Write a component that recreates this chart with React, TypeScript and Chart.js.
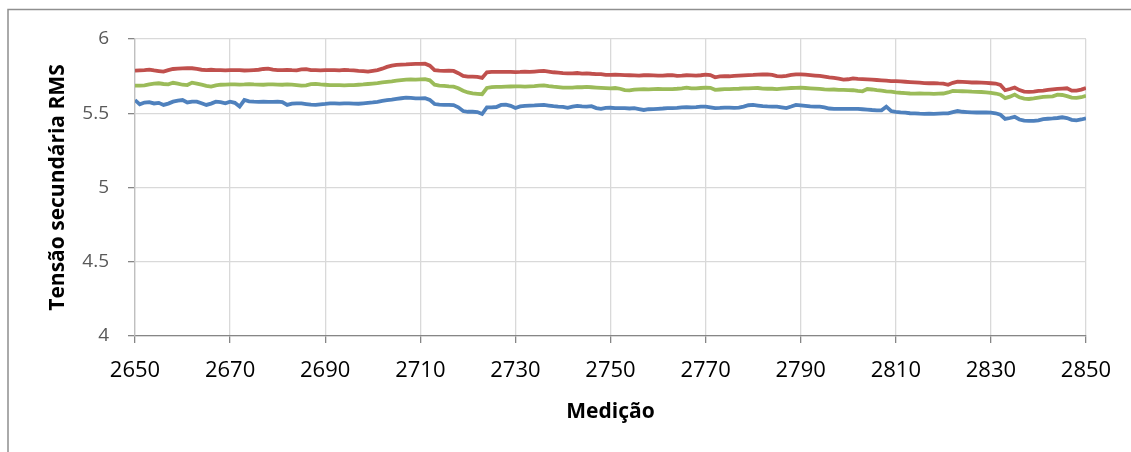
import React, { useEffect, useRef } from "react";
import { Chart, registerables } from "chart.js";

Chart.register(...registerables);

const xStart = 2650;
const xTicks = [2650, 2670, 2690, 2710, 2730, 2750, 2770, 2790, 2810, 2830, 2850];
const yTicks = [4, 4.5, 5, 5.5, 6];

const redSeries = [
  5.787, 5.789, 5.791, 5.794, 5.788, 5.784, 5.780, 5.790, 5.798, 5.800,
  5.802, 5.803, 5.803, 5.798, 5.793, 5.791, 5.793, 5.790, 5.791, 5.789,
  5.790, 5.791, 5.790, 5.788, 5.789, 5.791, 5.793, 5.798, 5.801, 5.794,
  5.791, 5.790, 5.792, 5.790, 5.789, 5.795, 5.797, 5.790, 5.790, 5.789,
  5.791, 5.790, 5.791, 5.789, 5.792, 5.790, 5.789, 5.786, 5.784, 5.780,
  5.786, 5.791, 5.800, 5.812, 5.821, 5.826, 5.828, 5.829, 5.831, 5.832,
  5.832, 5.834, 5.820, 5.790, 5.787, 5.785, 5.787, 5.785, 5.770, 5.751,
  5.746, 5.747, 5.745, 5.738, 5.776, 5.778, 5.779, 5.778, 5.779, 5.778,
  5.777, 5.778, 5.780, 5.779, 5.781, 5.783, 5.785, 5.781, 5.776, 5.773,
  5.770, 5.768, 5.769, 5.771, 5.767, 5.769, 5.766, 5.764, 5.763, 5.758,
  5.758, 5.760, 5.759, 5.757, 5.756, 5.755, 5.754, 5.756, 5.757, 5.755,
  5.753, 5.753, 5.756, 5.757, 5.752, 5.753, 5.756, 5.755, 5.754, 5.756,
  5.760, 5.757, 5.742, 5.748, 5.750, 5.749, 5.751, 5.753, 5.755, 5.757,
  5.758, 5.760, 5.761, 5.762, 5.758, 5.750, 5.748, 5.752, 5.758, 5.762,
  5.762, 5.760, 5.757, 5.754, 5.751, 5.747, 5.742, 5.738, 5.733, 5.726,
  5.729, 5.735, 5.732, 5.730, 5.728, 5.726, 5.724, 5.722, 5.720, 5.717,
  5.716, 5.714, 5.712, 5.710, 5.708, 5.706, 5.703, 5.702, 5.703, 5.701,
  5.700, 5.692, 5.705, 5.713, 5.711, 5.709, 5.707, 5.707, 5.706, 5.704,
  5.702, 5.700, 5.690, 5.655, 5.663, 5.673, 5.656, 5.646, 5.644, 5.646,
  5.650, 5.653, 5.657, 5.661, 5.664, 5.666, 5.668, 5.652, 5.652, 5.659,
  5.670,
];

const greenSeries = [
  5.686, 5.686, 5.688, 5.694, 5.699, 5.702, 5.697, 5.695, 5.705, 5.700,
  5.692, 5.690, 5.706, 5.700, 5.693, 5.685, 5.680, 5.688, 5.692, 5.693,
  5.694, 5.695, 5.693, 5.694, 5.696, 5.694, 5.693, 5.692, 5.694, 5.695,
  5.693, 5.692, 5.694, 5.693, 5.690, 5.686, 5.688, 5.696, 5.698, 5.694,
  5.692, 5.690, 5.689, 5.690, 5.688, 5.689, 5.690, 5.692, 5.694, 5.697,
  5.700, 5.703, 5.708, 5.711, 5.714, 5.719, 5.723, 5.727, 5.728, 5.727,
  5.728, 5.729, 5.722, 5.692, 5.686, 5.684, 5.681, 5.679, 5.668, 5.652,
  5.640, 5.634, 5.631, 5.628, 5.670, 5.676, 5.677, 5.678, 5.679, 5.680,
  5.681, 5.681, 5.679, 5.681, 5.682, 5.686, 5.688, 5.683, 5.679, 5.676,
  5.673, 5.672, 5.673, 5.676, 5.675, 5.677, 5.675, 5.673, 5.671, 5.669,
  5.667, 5.670, 5.665, 5.656, 5.654, 5.659, 5.661, 5.662, 5.661, 5.663,
  5.664, 5.663, 5.662, 5.663, 5.665, 5.668, 5.672, 5.667, 5.668, 5.670,
  5.672, 5.671, 5.658, 5.660, 5.662, 5.663, 5.664, 5.665, 5.667, 5.668,
  5.669, 5.670, 5.666, 5.665, 5.665, 5.663, 5.666, 5.668, 5.670, 5.671,
  5.672, 5.670, 5.668, 5.666, 5.664, 5.661, 5.659, 5.660, 5.658, 5.657,
  5.656, 5.655, 5.650, 5.648, 5.663, 5.660, 5.655, 5.652, 5.648, 5.645,
  5.641, 5.638, 5.636, 5.633, 5.632, 5.633, 5.632, 5.632, 5.631, 5.632,
  5.633, 5.640, 5.650, 5.649, 5.648, 5.647, 5.645, 5.644, 5.643, 5.640,
  5.637, 5.633, 5.625, 5.602, 5.612, 5.626, 5.607, 5.598, 5.596, 5.600,
  5.605, 5.610, 5.612, 5.614, 5.625, 5.623, 5.615, 5.605, 5.604, 5.608,
  5.617,
];

const blueSeries = [
  5.589, 5.560, 5.572, 5.575, 5.566, 5.570, 5.556, 5.565, 5.578, 5.585,
  5.589, 5.573, 5.578, 5.578, 5.567, 5.556, 5.565, 5.578, 5.575, 5.567,
  5.578, 5.570, 5.545, 5.589, 5.580, 5.578, 5.577, 5.578, 5.576, 5.577,
  5.578, 5.575, 5.556, 5.565, 5.567, 5.566, 5.562, 5.558, 5.556, 5.560,
  5.563, 5.567, 5.566, 5.565, 5.566, 5.567, 5.565, 5.564, 5.567, 5.570,
  5.573, 5.577, 5.583, 5.588, 5.592, 5.597, 5.601, 5.605, 5.603, 5.600,
  5.600, 5.601, 5.590, 5.562, 5.558, 5.556, 5.556, 5.555, 5.540, 5.515,
  5.510, 5.510, 5.508, 5.495, 5.540, 5.540, 5.542, 5.556, 5.558, 5.550,
  5.535, 5.546, 5.550, 5.552, 5.553, 5.555, 5.556, 5.552, 5.548, 5.545,
  5.543, 5.536, 5.545, 5.550, 5.546, 5.545, 5.548, 5.535, 5.530, 5.536,
  5.537, 5.535, 5.534, 5.535, 5.532, 5.534, 5.528, 5.522, 5.527, 5.528,
  5.530, 5.532, 5.535, 5.534, 5.536, 5.540, 5.541, 5.540, 5.541, 5.544,
  5.545, 5.540, 5.535, 5.536, 5.538, 5.538, 5.536, 5.538, 5.545, 5.554,
  5.556, 5.552, 5.548, 5.546, 5.545, 5.544, 5.540, 5.535, 5.545, 5.556,
  5.553, 5.550, 5.546, 5.545, 5.544, 5.540, 5.532, 5.530, 5.530, 5.530,
  5.529, 5.530, 5.529, 5.527, 5.525, 5.522, 5.520, 5.520, 5.544, 5.515,
  5.510, 5.506, 5.504, 5.500, 5.499, 5.497, 5.496, 5.497, 5.496, 5.498,
  5.499, 5.499, 5.508, 5.515, 5.510, 5.508, 5.506, 5.505, 5.506, 5.505,
  5.504, 5.500, 5.490, 5.462, 5.468, 5.476, 5.458, 5.450, 5.448, 5.448,
  5.452, 5.460, 5.463, 5.465, 5.468, 5.473, 5.468, 5.456, 5.452, 5.458,
  5.466,
];

const toPoints = (vals: number[]) => vals.map((v, i) => ({ x: xStart + i, y: v }));

const framePlugin = {
  id: "frame",
  beforeDraw(chart: any) {
    const ctx = chart.ctx;
    ctx.save();
    ctx.strokeStyle = "#8f8f8f";
    ctx.lineWidth = 1.5;
    ctx.beginPath();
    ctx.moveTo(8, 452);
    ctx.lineTo(8, 9.5);
    ctx.lineTo(1131, 9.5);
    ctx.stroke();
    ctx.restore();
  },
};

export default function App() {
  const ref = useRef<HTMLCanvasElement | null>(null);
  useEffect(() => {
    if (!ref.current) return;
    const chart = new Chart(ref.current, {
      type: "line",
      data: {
        datasets: [
          { label: "Série 1", data: toPoints(blueSeries), borderColor: "#4f81bd", backgroundColor: "#4f81bd", borderWidth: 3.8, pointRadius: 0, tension: 0 },
          { label: "Série 2", data: toPoints(redSeries), borderColor: "#c0504d", backgroundColor: "#c0504d", borderWidth: 3.8, pointRadius: 0, tension: 0 },
          { label: "Série 3", data: toPoints(greenSeries), borderColor: "#9bbb59", backgroundColor: "#9bbb59", borderWidth: 3.8, pointRadius: 0, tension: 0 },
        ],
      },
      options: {
        animation: false,
        responsive: false,
        maintainAspectRatio: false,
        layout: { padding: { left: 45, top: 39, right: 45, bottom: 27 } },
        plugins: { legend: { display: false }, tooltip: { enabled: false } },
        scales: {
          x: {
            type: "linear",
            min: 2650,
            max: 2850,
            afterBuildTicks: (scale: any) => {
              scale.ticks = xTicks.map((v) => ({ value: v }));
            },
            afterFit: (scale: any) => {
              scale.height = 452 - 27 - 336;
            },
            ticks: {
              autoSkip: false,
              maxRotation: 0,
              padding: 15,
              color: "#000000",
              font: { family: "'Open Sans', sans-serif", size: 22 },
              callback: (v: any) => String(v),
            },
            grid: { color: "#d9d9d9", lineWidth: 1.3, tickLength: 7, tickColor: "#868686", drawTicks: true },
            border: { display: true, color: "#868686", width: 1.3 },
            title: {
              display: true,
              text: "Medição",
              color: "#000000",
              padding: 0,
              font: { family: "'Open Sans', sans-serif", size: 21, weight: "bold" },
            },
          },
          y: {
            type: "linear",
            min: 4,
            max: 6,
            afterBuildTicks: (scale: any) => {
              scale.ticks = yTicks.map((v) => ({ value: v }));
            },
            afterFit: (scale: any) => {
              scale.width = 135 - 45;
            },
            ticks: {
              padding: 19,
              color: "#595959",
              font: { family: "'Open Sans', sans-serif", size: 19 },
              callback: (v: any) => String(v),
            },
            grid: { color: "#d9d9d9", lineWidth: 1.3, tickLength: 7, tickColor: "#868686" },
            border: { display: true, color: "#bfbfbf", width: 1.3 },
            title: {
              display: true,
              text: "Tensão secundária RMS",
              color: "#000000",
              padding: 0,
              font: { family: "'Open Sans', sans-serif", size: 21, weight: "bold" },
            },
          },
        },
      },
      plugins: [framePlugin],
    });
    return () => chart.destroy();
  }, []);
  return (
    <div style={{ position: "fixed", left: 0, top: 0, width: 1131, height: 452, background: "#ffffff" }}>
      <canvas ref={ref} width={1131} height={452} style={{ width: 1131, height: 452, display: "block" }} />
    </div>
  );
}
